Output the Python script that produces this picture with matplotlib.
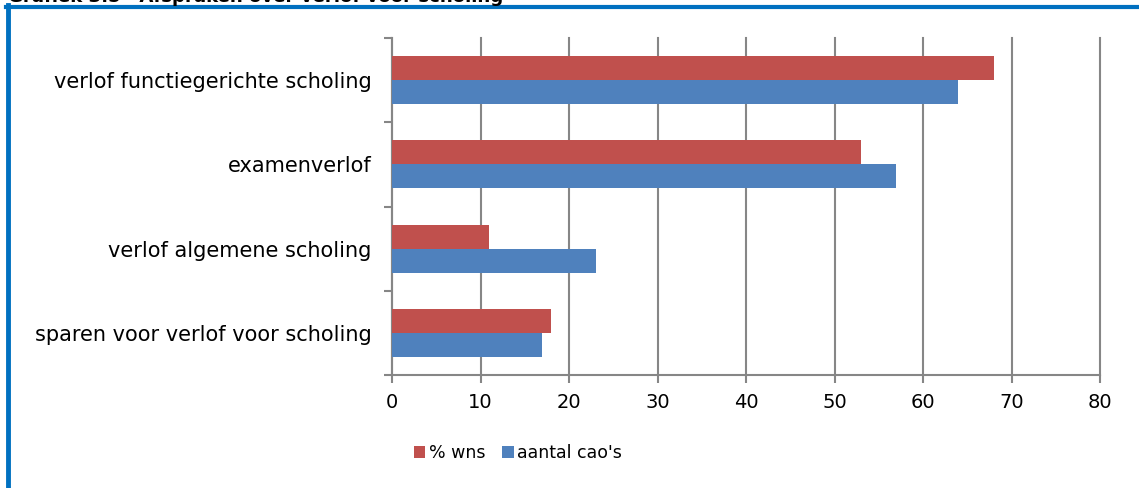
import matplotlib.pyplot as plt
import numpy as np
from matplotlib.lines import Line2D

# data
categories = ["verlof functiegerichte scholing", "examenverlof",
              "verlof algemene scholing", "sparen voor verlof voor scholing"]
pct_wns = [68, 53, 11, 18]
aantal_caos = [64, 57, 23, 17]
series_names = ["% wns", "aantal cao's"]
xticks = [0, 10, 20, 30, 40, 50, 60, 70, 80]

red = "#C0504D"
blue = "#4F81BD"
grey = "#868686"

fig = plt.figure(figsize=(11.39, 4.88), dpi=100)
ax = fig.add_axes([392/1139, 113/488, 708/1139, 337/488])

y = np.arange(len(categories))
h = 0.285
ax.barh(y - h/2, pct_wns, height=h, color=red, label=series_names[0], zorder=3)
ax.barh(y + h/2, aantal_caos, height=h, color=blue, label=series_names[1], zorder=3)

ax.set_xlim(0, 80)
ax.set_ylim(len(categories) - 0.5, -0.5)
ax.set_xticks(xticks)
ax.set_xticklabels([str(t) for t in xticks], fontsize=14)
ax.set_yticks(np.arange(-0.5, len(categories)), labels=[])
ax.set_yticks(y, labels=categories, minor=True)
ax.tick_params(axis='y', which='minor', length=0, pad=14.5, labelsize=15)
ax.tick_params(axis='y', which='major', length=6, width=1.5, color=grey)
ax.tick_params(axis='x', length=6, width=1.5, color=grey, pad=7)

ax.grid(axis='x', color=grey, linewidth=1.5, zorder=0)
for gl in ax.get_xgridlines():
    gl.set_clip_on(False)
for s in ['top', 'right']:
    ax.spines[s].set_visible(False)
for s in ['left', 'bottom']:
    ax.spines[s].set_color(grey)
    ax.spines[s].set_linewidth(1.5)

fig.legend(loc='center', bbox_to_anchor=(518/1139, 35/488), ncol=2, frameon=False,
           fontsize=12.5, handlelength=0.65, handleheight=0.65, handletextpad=0.2,
           columnspacing=1.0)

# blue frame around the chart
fig.add_artist(Line2D([8/1139, 8/1139], [0, 1 - 5/488], color="#0070C0", linewidth=3.5))
fig.add_artist(Line2D([6/1139, 1], [1 - 6.5/488, 1 - 6.5/488], color="#0070C0", linewidth=3))

# title, cut off at the top of the image as in the original
fig.text(8/1139, 1 - 2.5/488, "Grafiek 3.5   Afspraken over verlof voor scholing",
         fontsize=13.1, fontweight='bold', va='baseline', ha='left')

plt.savefig("out.png", dpi=100)
